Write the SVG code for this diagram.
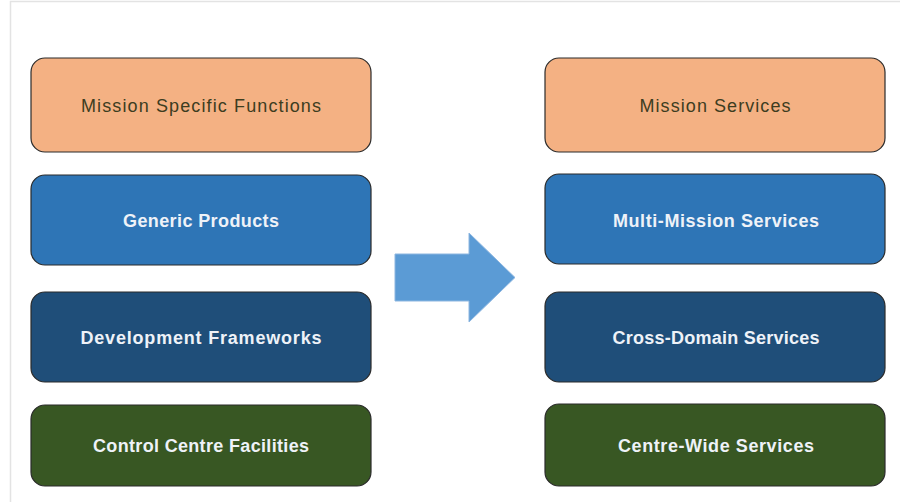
<svg xmlns="http://www.w3.org/2000/svg" width="900" height="502" viewBox="0 0 900 502">
<style>
.box{stroke:#2b2b2b;stroke-width:1.2}
.orange{fill:#f4b183}
.blue{fill:#2e75b6}
.dblue{fill:#1f4e79}
.green{fill:#385723}
.t{font-family:"Liberation Sans",Arial,sans-serif;font-size:18px;text-anchor:middle}
.dark{fill:#3d3d1f}
.light{fill:#eef2f8;font-weight:bold}
</style>
<rect x="0" y="0" width="900" height="502" fill="#ffffff"/>
<path d="M10.5,502 V1.5 H900" fill="none" stroke="#e3e3e3" stroke-width="1.5"/>
<g id="mission-specific-functions">
<rect class="box orange" x="31" y="58" width="340" height="94" rx="14"/>
<text class="t dark" x="201" y="112" textLength="240" lengthAdjust="spacing">Mission Specific Functions</text>
</g>
<g id="generic-products">
<rect class="box blue" x="31" y="175" width="340" height="90" rx="14"/>
<text class="t light" x="201" y="227" textLength="156" lengthAdjust="spacing">Generic Products</text>
</g>
<g id="development-frameworks">
<rect class="box dblue" x="31" y="292" width="340" height="90" rx="14"/>
<text class="t light" x="201" y="344" textLength="241" lengthAdjust="spacing">Development Frameworks</text>
</g>
<g id="control-centre-facilities">
<rect class="box green" x="31" y="405" width="340" height="81" rx="14"/>
<text class="t light" x="201" y="452" textLength="216" lengthAdjust="spacing">Control Centre Facilities</text>
</g>
<g id="mission-services">
<rect class="box orange" x="545" y="58" width="340" height="94" rx="14"/>
<text class="t dark" x="715" y="112" textLength="151" lengthAdjust="spacing">Mission Services</text>
</g>
<g id="multi-mission-services">
<rect class="box blue" x="545" y="174" width="340" height="90" rx="14"/>
<text class="t light" x="716" y="227" textLength="206" lengthAdjust="spacing">Multi-Mission Services</text>
</g>
<g id="cross-domain-services">
<rect class="box dblue" x="545" y="292" width="340" height="90" rx="14"/>
<text class="t light" x="716" y="344" textLength="207" lengthAdjust="spacing">Cross-Domain Services</text>
</g>
<g id="centre-wide-services">
<rect class="box green" x="545" y="404" width="340" height="82" rx="14"/>
<text class="t light" x="716" y="452" textLength="196" lengthAdjust="spacing">Centre-Wide Services</text>
</g>
<g id="connectors">
<polygon points="395,254 469,254 469,233 515,277.5 469,322 469,301 395,301" fill="#5b9bd5" stroke="#8db6e0" stroke-width="1"/>
</g>
</svg>
